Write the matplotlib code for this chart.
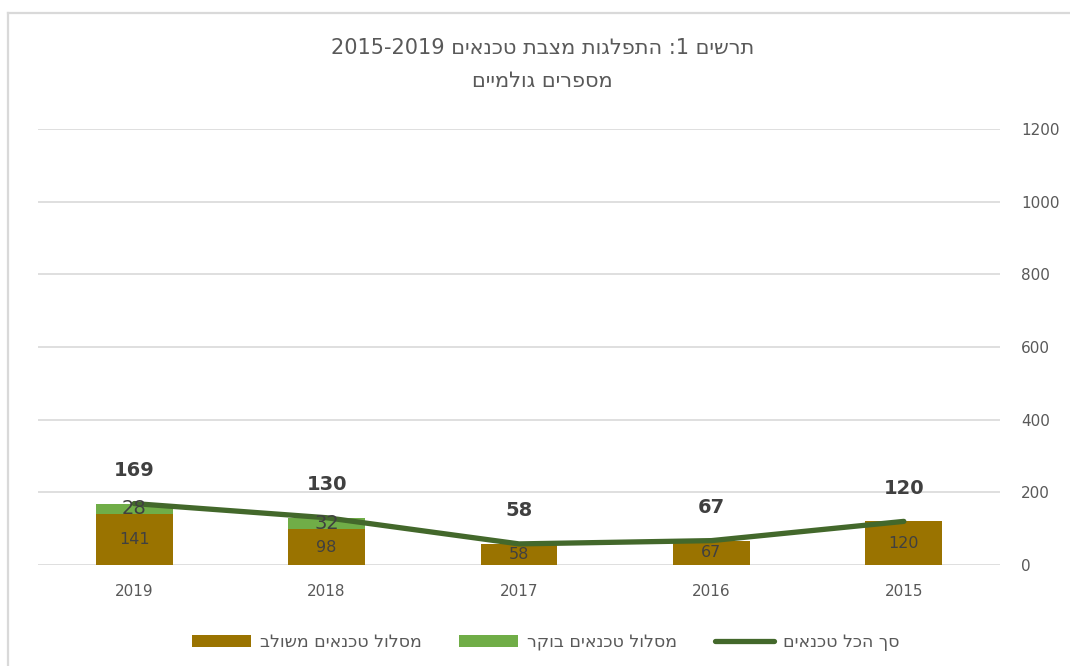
import re
import matplotlib
matplotlib.use("Agg")
import matplotlib.pyplot as plt
from matplotlib.lines import Line2D
from matplotlib.patches import Patch

# ---- data ----
years = ["2019", "2018", "2017", "2016", "2015"]
combined = [141, 98, 58, 67, 120]      # מסלול טכנאים משולב
morning = [28, 32, 0, 0, 0]            # מסלול טכנאים בוקר
total = [169, 130, 58, 67, 120]        # סך הכל טכנאים
yticks = [0, 200, 400, 600, 800, 1000, 1200]

title_line1 = "תרשים 1: התפלגות מצבת טכנאים 2015-2019"
title_line2 = "מספרים גולמיים"
name_combined = "מסלול טכנאים משולב"
name_morning = "מסלול טכנאים בוקר"
name_total = "סך הכל טכנאים"


def vis(s):
    """Convert logical RTL Hebrew string to visual (LTR) order."""
    r = s[::-1]
    return re.sub(r"[0-9][0-9\-.,]*[0-9]|[0-9]", lambda m: m.group(0)[::-1], r)


plt.rcParams["font.family"] = ["DejaVu Sans"]

BROWN = "#9A7300"
GREEN = "#70AD47"
LINE = "#43682B"
TXT = "#595959"
DARK = "#404040"
BORDER = "#D9D9D9"

fig = plt.figure(figsize=(10.70, 6.66), dpi=100)
# chart-area border (only left and top edges visible in the crop)
x0, y0 = 7.5 / 1070, 1 - 12.5 / 666
fig.add_artist(Line2D([x0, x0], [0, y0], transform=fig.transFigure, color=BORDER, linewidth=1.6))
fig.add_artist(Line2D([x0, 1], [y0, y0], transform=fig.transFigure, color=BORDER, linewidth=1.6))

ax = fig.add_axes([0.0355, 0.1517, 0.8991, 0.6546])

x = list(range(len(years)))
ax.bar(x, combined, width=0.4, color=BROWN, zorder=2)
ax.bar(x, morning, width=0.4, bottom=combined, color=GREEN, zorder=2)
ax.plot(x, total, color=LINE, linewidth=3.8, solid_capstyle="round", zorder=3)

for xi, c, m, t in zip(x, combined, morning, total):
    ax.text(xi, c / 2, str(c), ha="center", va="center", fontsize=11.5, color=DARK, zorder=4)
    if m > 0:
        ax.text(xi, c + m / 2, str(m), ha="center", va="center", fontsize=14, color=DARK, zorder=4)
    ax.annotate(str(t), (xi, t), xytext=(0, 24), textcoords="offset points",
                ha="center", va="center", fontsize=14, fontweight="bold", color=DARK, zorder=4)

ax.set_xlim(-0.5, len(years) - 0.5)
ax.set_ylim(0, 1200)
ax.set_yticks(yticks)
ax.yaxis.tick_right()
ax.tick_params(axis="y", length=0, pad=15, labelsize=11, labelcolor=TXT)
ax.set_xticks(x)
ax.set_xticklabels(years)
ax.tick_params(axis="x", length=0, pad=14, labelsize=11, labelcolor=TXT)
ax.grid(axis="y", color=BORDER, linewidth=1.2, zorder=0)
ax.set_axisbelow(True)
for s in ax.spines.values():
    s.set_visible(False)

fig.text(0.507, 0.928, vis(title_line1), ha="center", va="center", fontsize=15, color=TXT)
fig.text(0.507, 0.879, vis(title_line2), ha="center", va="center", fontsize=15, color=TXT)

handles = [
    Patch(facecolor=BROWN, label=vis(name_combined)),
    Patch(facecolor=GREEN, label=vis(name_morning)),
    Line2D([0], [0], color=LINE, linewidth=3.8, solid_capstyle="round", label=vis(name_total)),
]
fig.legend(handles=handles, loc="center", bbox_to_anchor=(0.51, 0.036), ncol=3,
           frameon=False, markerfirst=True, fontsize=12.5, labelcolor=TXT,
           handlelength=3.4, handleheight=0.75, columnspacing=2.2, handletextpad=0.5)

fig.savefig("out.png", dpi=100)
